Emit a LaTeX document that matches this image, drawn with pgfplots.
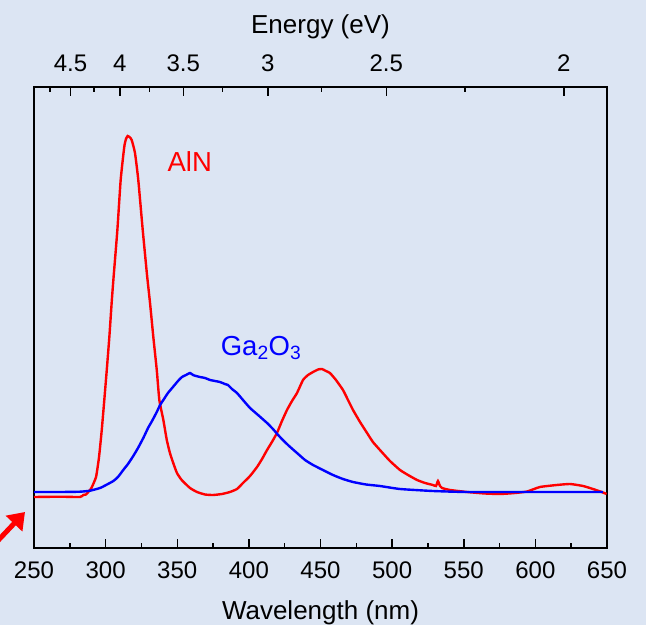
\documentclass[border=0pt]{standalone}
\usepackage{fontspec}
\setmainfont{Liberation Sans}
\usepackage{pgfplots}
\usepackage{pgfplotstable}
\pgfplotsset{compat=1.18}
\usetikzlibrary{arrows.meta}
\definecolor{bg}{RGB}{220,229,243}

% AlN photoluminescence (arb. units)
\pgfplotstableread{
lambda I
250.0 51
268.2 51.3
282.1 51
284.4 53
286.3 53.5
289.1 58
290.1 60
293.3 71
295.4 91
297.3 118
298.9 145
300.8 178
302.6 211
304.2 245
305.4 268
308.2 318
310.5 368
313.0 401
314.2 409
315.4 412
316.7 411
318.2 408
320.5 395
322.8 368
325.9 318
328.9 273
331.0 245
333.3 211
335.7 178
337.5 148
340.3 128
342.7 108
344.9 95
347.2 85
349.8 75
353.1 68
358.9 60
363.8 56
369.4 53.5
375.0 53
381.2 54
386.8 56
391.7 59
395.9 65
400.8 72
405.7 81
409.2 89
412.7 98
416.1 106
419.6 115
423.1 127
426.6 138
430.1 147
433.6 155
437.8 168
441.3 173
444.8 176
448.3 178.5
451.0 179
453.8 177
456.6 175
460.8 168
465.7 158
469.2 148
472.7 138
477.6 126
482.5 115
486.6 106
491.5 98
498.5 87
505.5 78
511.1 73
517.4 68
523.0 65
528.5 63
530.6 62
532.0 67
533.4 62
534.8 60
540.4 58
552.3 56
564.8 54.5
575.3 54
585.8 55
594.2 56.5
603.2 61
614.9 63
624.2 64
633.3 62
640.2 59
646.3 56
649.7 54
}\alndata

% Ga2O3 photoluminescence (arb. units)
\pgfplotstableread{
lambda I
250.0 56
268.2 56
282.1 56.3
289.1 57.3
296.1 60
300.3 63
305.4 67
308.6 71
312.3 78
315.6 84
319.3 92
322.6 100
326.3 110
329.6 120
332.4 127
335.7 136
338.0 143
340.3 148
343.5 155
347.0 161
350.5 167
353.3 171
356.1 173
358.9 175
361.0 173
363.1 172
365.9 171
369.4 170
372.9 168
376.4 167
379.8 166
383.3 164
385.4 163
388.2 159
391.7 155
395.9 148
400.8 140
406.4 133
412.7 125
416.8 119
421.7 111
427.3 103
433.6 95
439.2 88
444.8 83
451.7 78
458.7 73
465.7 69
472.7 66
481.8 63.5
491.5 62
505.5 59
528.5 57
552.3 56
603.2 56
647.2 56
}\gadata

\begin{document}
\begin{tikzpicture}
\fill[bg] (0,0) rectangle (646pt,625pt);
\useasboundingbox (0,0) rectangle (646pt,625pt);

\begin{axis}[
    at={(34pt,77pt)}, anchor=south west,
    scale only axis, width=573pt, height=461pt,
    xmin=250, xmax=650, ymin=0, ymax=461,
    xtick={250,300,...,650},
    minor xtick={275,325,...,625},
    ytick=\empty,
    xtick pos=left,
    tick align=inside,
    major tick length=9pt, minor tick length=5pt,
    tick style={black, line width=1.5pt},
    axis line style={line width=1.8pt},
    /pgf/number format/assume math mode=true,
    xticklabel style={font=\fontsize{24}{28}\selectfont, anchor=base, yshift=-30.3pt},
    xlabel={Wavelength (nm)},
    xlabel style={font=\fontsize{26}{30}\selectfont, at={(axis description cs:0.5,0)}, anchor=base, yshift=-71pt},
  ]
  \addplot[red, line width=2.4pt, smooth, tension=0.3] table {\alndata};
  \addplot[blue, line width=2.4pt, smooth, tension=0.3] table {\gadata};
  \node[red, anchor=base west, inner sep=0pt, font=\fontsize{27.5}{30}\selectfont] at (axis cs:343.1,376.3) {AlN};
  \node[blue, anchor=base west, inner sep=0pt, font=\fontsize{27.5}{30}\selectfont] at (axis cs:380.3,193) {Ga\textsubscript{2}O\textsubscript{3}};
\end{axis}

% top energy scale, E = 1239.84 / lambda
\begin{axis}[
    at={(34pt,77pt)}, anchor=south west,
    scale only axis, width=573pt, height=461pt,
    xmin=250, xmax=650, ymin=0, ymax=461,
    axis line style={draw=none},
    ytick=\empty,
    xtick pos=right, xticklabel pos=right,
    xtick={275.52,309.96,354.24,413.28,495.94,619.92},
    xticklabels={4.5,4,3.5,3,2.5,2},
    minor xtick={261.02,291.73,330.62,381.49,450.85,551.04},
    tick align=inside,
    major tick length=9pt, minor tick length=5pt,
    tick style={black, line width=1.5pt},
    xticklabel style={font=\fontsize{24}{28}\selectfont, anchor=base, yshift=15.3pt},
    xlabel={Energy (eV)},
    xlabel style={font=\fontsize{26}{30}\selectfont, at={(axis description cs:0.5,1)}, anchor=base, yshift=53.7pt},
  ]
\end{axis}

\draw[red, line width=5pt, -{Triangle[length=16pt,width=22pt]}] (-10pt,76pt) -- (25pt,113pt);
\end{tikzpicture}
\end{document}
